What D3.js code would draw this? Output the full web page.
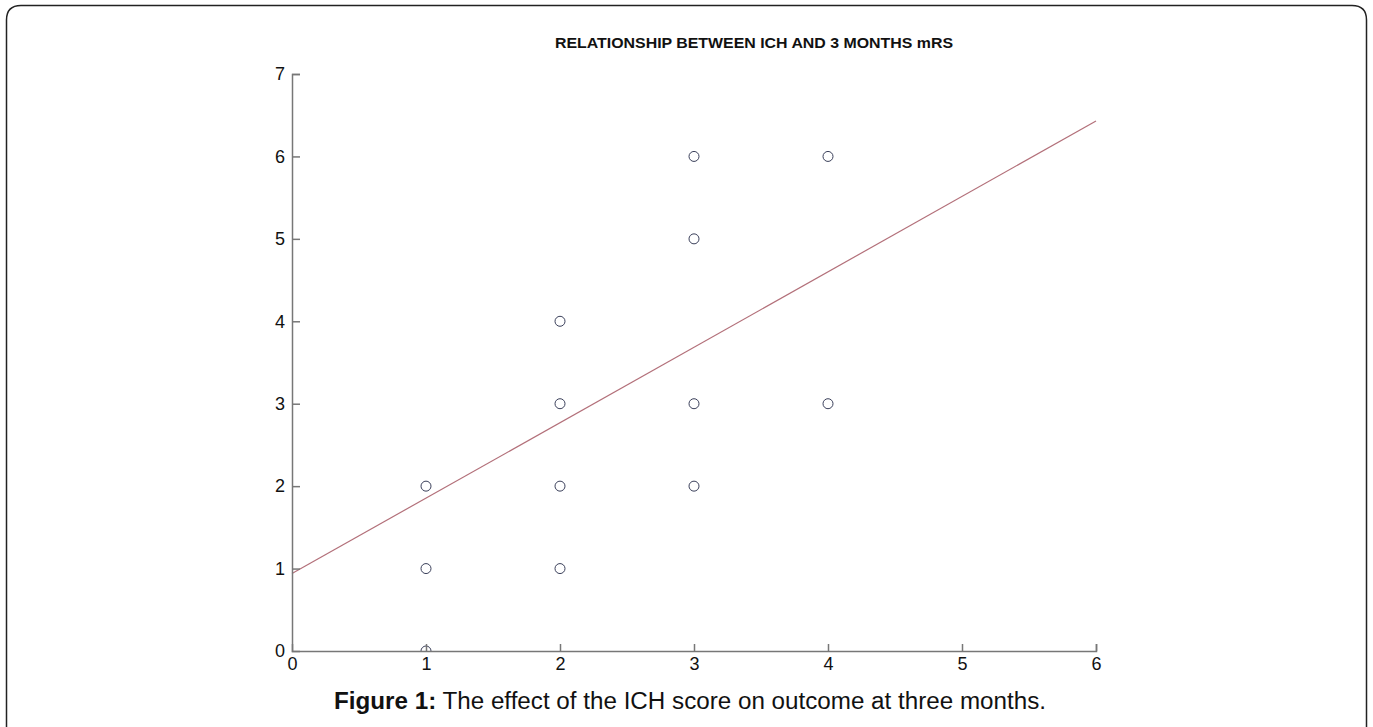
<!DOCTYPE html>
<html><head><meta charset="utf-8">
<script src="https://cdn.jsdelivr.net/npm/d3@7"></script>
<style>body{margin:0;background:#fff;font-family:"Liberation Sans",Arial,sans-serif;}</style>
</head><body>
<svg id="c" width="1373" height="727"></svg>
<script>
const ichScore = [1,1,1,2,2,2,2,3,3,3,3,4,4];
const mrs3Months = [0,1,2,1,2,3,4,2,3,5,6,3,6];
const fitLine = [[0,0.94],[6,6.43]];
const xTicks = [0,1,2,3,4,5,6];
const yTicks = [0,1,2,3,4,5,6,7];
const titleText = "RELATIONSHIP BETWEEN ICH AND 3 MONTHS mRS";

const svg = d3.select("#c");
svg.append("path")
  .attr("d","M6.5,740 L6.5,20 Q6.5,5.5 21,5.5 L1352,5.5 Q1366.5,5.5 1366.5,20 L1366.5,740")
  .attr("fill","none").attr("stroke","#222").attr("stroke-width",1.5);

const x = d3.scaleLinear().domain([0,6]).range([292,1096]);
const y = d3.scaleLinear().domain([0,7]).range([651,74]);

svg.append("clipPath").attr("id","pc").append("rect")
  .attr("x",292).attr("y",74).attr("width",804).attr("height",577);

const line = d3.line().x(d=>x(d[0])).y(d=>y(d[1]));
svg.append("path").datum(fitLine).attr("d",line)
  .attr("fill","none").attr("stroke","#b3707a").attr("stroke-width",1.2);

svg.append("g").attr("clip-path","url(#pc)").selectAll("circle")
  .data(ichScore.map((v,i)=>[v,mrs3Months[i]])).join("circle")
  .attr("cx",d=>x(d[0])).attr("cy",d=>y(d[1])).attr("r",5)
  .attr("fill","none").attr("stroke","#3a3f5a").attr("stroke-width",1);

const xa = svg.append("g").attr("transform","translate(0,651)")
  .call(d3.axisBottom(x).tickValues(xTicks).tickSize(-7).tickPadding(6).tickFormat(d3.format("d")));
const ya = svg.append("g").attr("transform","translate(292,0)")
  .call(d3.axisLeft(y).tickValues(yTicks).tickSize(-8).tickPadding(7).tickFormat(d3.format("d")));
[xa,ya].forEach(a=>{
  a.attr("font-size",null).attr("font-family",null);
  a.select(".domain").attr("stroke","#777").attr("stroke-width",1.5);
  a.selectAll(".tick line").attr("stroke","#777").attr("stroke-width",1.5);
  a.selectAll("text").style("font-size","18px").attr("fill","#111")
    .style("font-family","'Liberation Sans', Arial, sans-serif");
});
xa.selectAll(".tick").filter(d=>d===0).select("line").remove();
ya.selectAll(".tick").filter(d=>d===0).select("line").remove();

svg.append("text").attr("x",754).attr("y",48).attr("text-anchor","middle")
  .style("font-size","15.5px").attr("font-weight","bold").attr("fill","#111")
  .attr("textLength",398).attr("lengthAdjust","spacingAndGlyphs").text(titleText);

const cap = svg.append("text").attr("x",690).attr("y",709).attr("text-anchor","middle")
  .style("font-size","23px").attr("fill","#111")
  .attr("textLength",712).attr("lengthAdjust","spacingAndGlyphs");
cap.append("tspan").attr("font-weight","bold").text("Figure 1:");
cap.append("tspan").text(" The effect of the ICH score on outcome at three months.");
</script>
</body></html>
